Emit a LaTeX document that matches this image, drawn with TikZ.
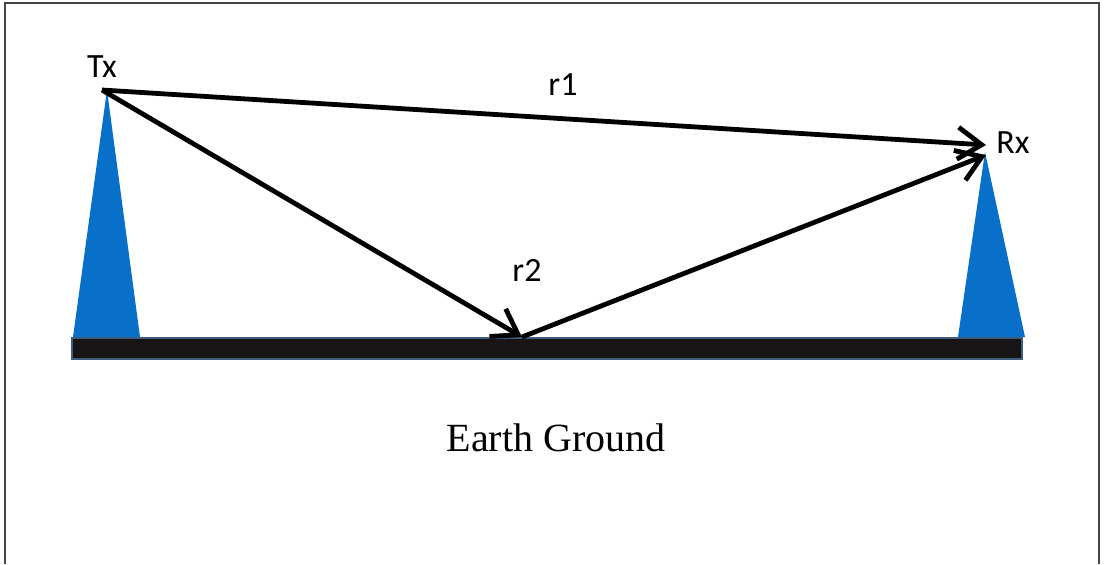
\documentclass[tikz,border=0pt]{standalone}
\usepackage{fontspec}
\setmainfont{Liberation Serif}
\newfontfamily\labelfont{Carlito}
\usetikzlibrary{arrows.meta}
\definecolor{towerblue}{RGB}{8, 112, 200}
\definecolor{groundedge}{RGB}{62, 92, 125}
\definecolor{groundfill}{RGB}{22, 20, 20}
\definecolor{framegray}{RGB}{70, 70, 70}

\begin{document}
\begin{tikzpicture}[
  x=0.5pt, y=-0.5pt,
  tower/.style={fill=towerblue, draw=none},
  ray/.style={line width=2.4pt, -{Straight Barb[length=12pt, width=16pt, line width=2.4pt]}},
  lbl/.style={font=\labelfont\fontsize{17}{20}\selectfont, inner sep=0pt}
]
  \useasboundingbox (0,0) rectangle (1105,564);
  % frame, open at the bottom
  \draw[framegray, line width=1pt] (5,564) -- (5,3) -- (1099,3) -- (1099,564);

  % towers
  \fill[tower] (107,90) -- (140,337) -- (73,337) -- cycle;
  \fill[tower] (985,152) -- (1025,337) -- (958,337) -- cycle;

  % ground
  \draw[groundedge, fill=groundfill, line width=1.2pt] (72,338) rectangle (1022,359);

  % antennas and bounce point
  \coordinate (tx) at (102,90);
  \coordinate (rx) at (986,145);
  \coordinate (rxlow) at (986,155);
  \coordinate (bounce) at (522,337);

  \node[lbl] (txlabel) at (102,67) {Tx};
  \node[lbl] (rxlabel) at (1013,143) {Rx};
  \node[lbl] (r1) at (563,85) {r1};
  \node[lbl] (r2) at (527,270) {r2};
  \node[font=\fontsize{20}{24}\selectfont, inner sep=0pt] (earth) at (556,438) {Earth Ground};

  % direct and reflected rays
  \draw[ray] (tx) -- (rx);
  \draw[ray] (tx) -- (bounce);
  \draw[ray] (bounce) -- (rxlow);
\end{tikzpicture}
\end{document}
